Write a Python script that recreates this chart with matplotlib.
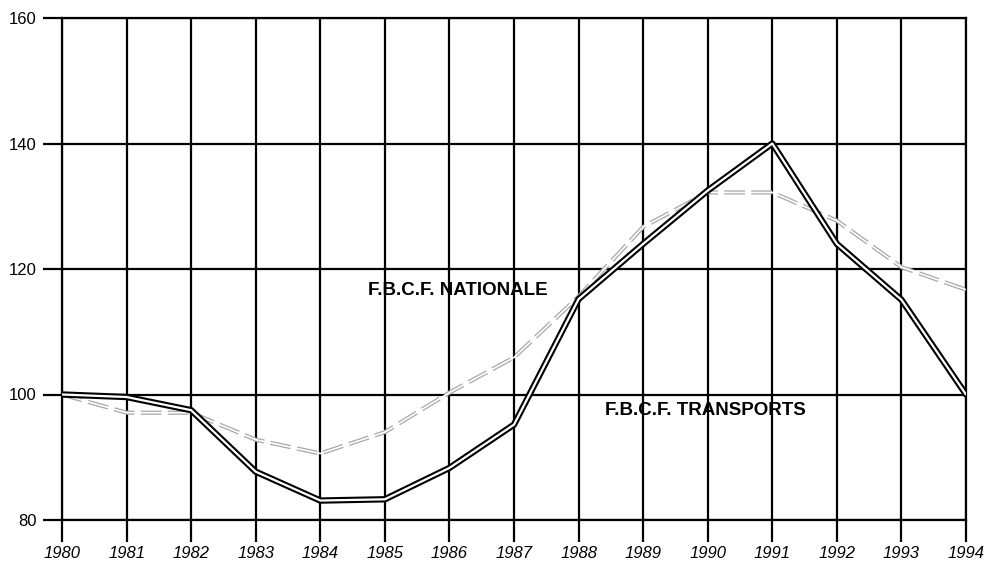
import matplotlib
matplotlib.use("Agg")
import matplotlib.pyplot as plt

years = list(range(1980, 1995))
transports = [100.0, 99.6, 97.5, 87.7, 83.1, 83.3, 88.3, 95.2, 115.2, 124.0, 132.5, 140.0, 124.0, 115.1, 100.0]
nationale = [100.0, 97.1, 97.1, 92.8, 90.6, 94.0, 100.3, 105.9, 115.6, 126.7, 132.2, 132.2, 127.7, 120.3, 116.7]
yticks = [80, 100, 120, 140, 160]

plt.rcParams['font.family'] = ['Liberation Sans', 'DejaVu Sans']

fig = plt.figure(figsize=(9.85, 5.67), dpi=100)
ax = fig.add_axes([62/985, 47/567, (966-62)/985, (520-18)/567])

ax.set_xlim(1980, 1994)
ax.set_ylim(80, 160)
ax.set_xticks(years)
ax.set_xticklabels([str(y) for y in years], fontstyle='italic', fontsize=12)
ax.set_yticks(yticks)
ax.set_yticklabels([str(v) for v in yticks], fontsize=12)
ax.grid(True, color='black', linewidth=1.6)
ax.set_axisbelow(True)
for s in ax.spines.values():
    s.set_linewidth(1.6)
ax.tick_params(axis='x', length=16, width=1.6, pad=3)
ax.tick_params(axis='y', length=14, width=1.6, pad=4)

# Nationale: faint grey double dashed line
ax.plot(years, nationale, color='#a8a8a8', linewidth=3.0, linestyle=(0, (5, 1.5)), zorder=3,
        dash_joinstyle='round')
ax.plot(years, nationale, color='white', linewidth=1.2, zorder=3.1)

# Transports: bold double line
ax.plot(years, transports, color='black', linewidth=4.6, zorder=4,
        solid_joinstyle='round', solid_capstyle='round')
ax.plot(years, transports, color='white', linewidth=1.6, zorder=4.1,
        solid_joinstyle='round', solid_capstyle='round')

ax.text(1986.13, 116.5, 'F.B.C.F. NATIONALE', fontsize=13.5, fontweight='bold',
        ha='center', va='center', zorder=5)
ax.text(1989.97, 97.4, 'F.B.C.F. TRANSPORTS', fontsize=13.5, fontweight='bold',
        ha='center', va='center', zorder=5)

fig.savefig('out.png', dpi=100)
